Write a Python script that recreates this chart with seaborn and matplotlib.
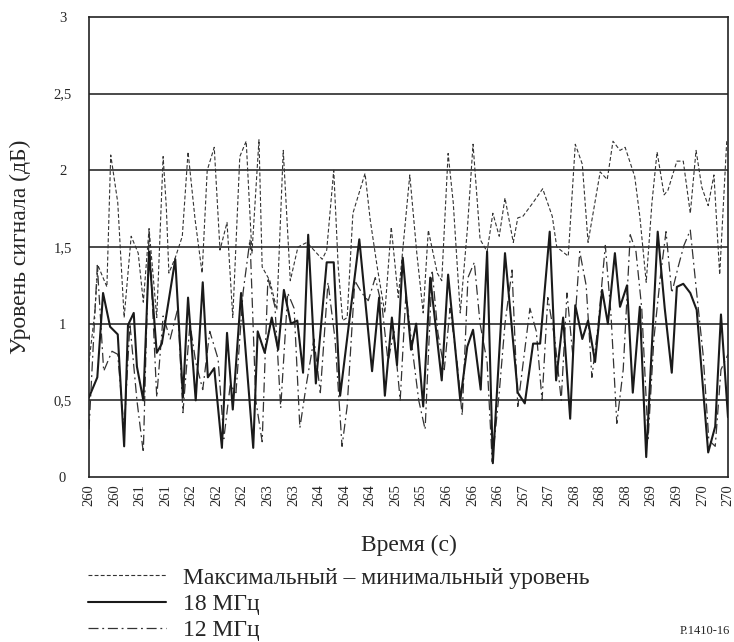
import numpy as np
import pandas as pd
import matplotlib
matplotlib.use("Agg")
import matplotlib.pyplot as plt
import seaborn as sns

# --- data ---
t_range = [260.00, 260.09, 260.14, 260.28, 260.34, 260.45, 260.55, 260.66, 260.77, 260.85,
           260.94, 261.06, 261.16, 261.21, 261.25, 261.35, 261.46, 261.55, 261.66, 261.77,
           261.85, 261.96, 262.05, 262.16, 262.25, 262.36, 262.46, 262.55, 262.66, 262.71,
           262.83, 262.94, 263.04, 263.15, 263.27, 263.41, 263.65, 263.72, 263.83, 263.90,
           263.97, 264.04, 264.13, 264.32, 264.40, 264.51, 264.63, 264.73, 264.84, 265.02,
           265.13, 265.23, 265.31, 265.45, 265.52, 265.62, 265.70, 265.81, 265.92, 266.01,
           266.12, 266.23, 266.32, 266.42, 266.51, 266.64, 266.71, 266.79, 266.95, 267.10,
           267.25, 267.32, 267.50, 267.61, 267.72, 267.81, 268.00, 268.11, 268.20, 268.31,
           268.39, 268.54, 268.62, 268.72, 268.81, 268.89, 269.00, 269.06, 269.20, 269.30,
           269.41, 269.50, 269.59, 269.69, 269.78, 269.87, 269.98]
v_range = [0.75, 1.07, 1.38, 1.24, 2.10, 1.79, 1.04, 1.57, 1.46, 1.14,
           1.62, 1.04, 2.09, 1.76, 1.33, 1.43, 1.57, 2.12, 1.68, 1.33,
           2.00, 2.15, 1.48, 1.66, 1.04, 2.09, 2.19, 1.46, 2.20, 1.37,
           1.28, 1.09, 2.13, 1.28, 1.50, 1.53, 1.42, 1.48, 2.00, 1.37,
           1.02, 1.04, 1.72, 1.98, 1.68, 1.37, 1.07, 1.63, 1.17, 1.97,
           1.46, 1.07, 1.61, 1.33, 1.28, 2.11, 1.79, 1.07, 1.61, 2.17,
           1.55, 1.47, 1.72, 1.57, 1.82, 1.53, 1.69, 1.70, 1.79, 1.88,
           1.70, 1.50, 1.44, 2.17, 2.04, 1.53, 1.99, 1.94, 2.19, 2.13,
           2.15, 1.96, 1.70, 1.27, 1.79, 2.12, 1.84, 1.87, 2.06, 2.06,
           1.72, 2.13, 1.89, 1.77, 1.97, 1.32, 2.19]

t_18 = [260.00, 260.13, 260.22, 260.33, 260.45, 260.55, 260.61, 260.70, 260.75, 260.85,
        260.94, 261.06, 261.14, 261.35, 261.47, 261.55, 261.67, 261.78, 261.86, 261.96,
        262.08, 262.16, 262.25, 262.38, 262.57, 262.64, 262.75, 262.86, 262.96, 263.05,
        263.16, 263.26, 263.35, 263.43, 263.55, 263.72, 263.83, 263.93, 264.23, 264.43,
        264.54, 264.63, 264.74, 264.82, 264.91, 265.04, 265.12, 265.23, 265.34, 265.52,
        265.62, 265.81, 265.92, 266.01, 266.13, 266.23, 266.32, 266.51, 266.71, 266.82,
        266.95, 267.06, 267.21, 267.31, 267.42, 267.53, 267.61, 267.72, 267.81, 267.92,
        268.03, 268.12, 268.23, 268.31, 268.42, 268.51, 268.62, 268.72, 268.90, 269.01,
        269.12, 269.20, 269.30, 269.41, 269.51, 269.69, 269.80, 269.89, 270.00]
v_18 = [0.52, 0.65, 1.20, 0.98, 0.93, 0.20, 0.99, 1.07, 0.72, 0.50,
        1.47, 0.81, 0.87, 1.42, 0.52, 1.17, 0.50, 1.27, 0.65, 0.71,
        0.19, 0.94, 0.44, 1.20, 0.19, 0.95, 0.81, 1.04, 0.83, 1.22,
        1.00, 1.02, 0.68, 1.58, 0.61, 1.40, 1.40, 0.53, 1.55, 0.69,
        1.17, 0.53, 1.04, 0.73, 1.43, 0.83, 1.00, 0.46, 1.30, 0.63,
        1.32, 0.50, 0.85, 0.96, 0.57, 1.47, 0.09, 1.46, 0.55, 0.48,
        0.87, 0.87, 1.60, 0.63, 1.04, 0.38, 1.12, 0.90, 1.02, 0.75,
        1.22, 1.00, 1.46, 1.11, 1.25, 0.55, 1.11, 0.13, 1.60, 1.10,
        0.68, 1.24, 1.26, 1.20, 1.09, 0.16, 0.33, 1.06, 0.39]

t_12 = [260.00, 260.13, 260.23, 260.36, 260.45, 260.55, 260.64, 260.75, 260.85, 260.94,
        261.06, 261.16, 261.27, 261.39, 261.47, 261.58, 261.67, 261.78, 261.89, 262.02,
        262.11, 262.21, 262.30, 262.41, 262.52, 262.61, 262.71, 262.80, 262.91, 263.00,
        263.11, 263.21, 263.30, 263.40, 263.52, 263.62, 263.74, 263.85, 263.96, 264.04,
        264.16, 264.27, 264.37, 264.48, 264.59, 264.68, 264.77, 264.87, 264.96, 265.07,
        265.16, 265.26, 265.37, 265.46, 265.56, 265.65, 265.76, 265.84, 265.93, 266.03,
        266.12, 266.23, 266.31, 266.42, 266.51, 266.62, 266.71, 266.82, 266.90, 267.00,
        267.09, 267.18, 267.29, 267.39, 267.48, 267.57, 267.68, 267.78, 267.87, 267.97,
        268.08, 268.17, 268.26, 268.36, 268.47, 268.56, 268.65, 268.75, 268.84, 268.94,
        269.03, 269.12, 269.22, 269.31, 269.41, 269.51, 269.61, 269.70, 269.80, 269.89,
        270.00]
v_12 = [0.31, 1.38, 0.69, 0.82, 0.80, 0.30, 1.00, 0.50, 0.16, 1.60,
        0.52, 1.05, 0.90, 1.10, 0.42, 1.00, 0.75, 0.57, 0.95, 0.77,
        0.25, 0.60, 0.55, 1.20, 1.55, 0.50, 0.23, 1.30, 1.11, 0.45,
        1.20, 1.10, 0.32, 0.60, 0.90, 0.55, 1.27, 0.90, 0.20, 0.46,
        1.28, 1.20, 1.15, 1.30, 1.10, 0.75, 0.95, 0.50, 1.20, 0.80,
        0.50, 0.31, 1.35, 0.94, 0.70, 1.10, 0.75, 0.40, 1.30, 1.40,
        1.00, 0.75, 0.10, 0.55, 1.00, 1.35, 0.46, 0.83, 1.10, 0.95,
        0.50, 1.17, 0.90, 0.50, 1.20, 0.80, 1.47, 1.25, 0.65, 1.00,
        1.51, 1.05, 0.35, 0.70, 1.58, 1.47, 1.10, 0.25, 0.90, 1.30,
        1.60, 1.20, 1.37, 1.51, 1.61, 1.20, 0.80, 0.24, 0.20, 0.70,
        0.80]

x_ticks = [260 + 0.4 * i for i in range(26)]
x_tick_labels = ["260", "260", "261", "261", "262", "262", "262", "263", "263", "264",
                 "264", "264", "265", "265", "266", "266", "266", "267", "267", "268",
                 "268", "268", "269", "269", "270", "270"]
y_ticks = [0, 0.5, 1, 1.5, 2, 2.5, 3]
y_tick_labels = ["0", "0,5", "1", "1,5", "2", "2,5", "3"]

label_range = "Максимальный – минимальный уровень"
label_18 = "18 МГц"
label_12 = "12 МГц"

sns.set_style("white")
plt.rcParams["font.family"] = ["Liberation Serif", "DejaVu Serif"]

fig = plt.figure(figsize=(7.34, 6.42), dpi=100)
ax = fig.add_axes([89 / 734, 1 - 477 / 642, 639 / 734, 460 / 642])

# grid lines first so the data sits on top
for y in y_ticks[1:-1]:
    ax.axhline(y, color="#2b2b2b", lw=1.2, zorder=1)

sns.lineplot(x=t_range, y=v_range, ax=ax, color="#333333", lw=0.8,
             linestyle=(0, (3.5, 2)), estimator=None, sort=False,
             label=label_range, zorder=3)
sns.lineplot(x=t_18, y=v_18, ax=ax, color="#1a1a1a", lw=1.5,
             estimator=None, sort=False, label=label_18, zorder=4)
sns.lineplot(x=t_12, y=v_12, ax=ax, color="#333333", lw=0.9,
             linestyle=(0, (8, 3, 1.5, 3)), estimator=None, sort=False,
             label=label_12, zorder=2)

ax.set_xlim(260, 270)
ax.set_ylim(0, 3)
ax.set_xticks(x_ticks)
ax.set_xticklabels(x_tick_labels, rotation=90, fontsize=10.5)
ax.set_yticks(y_ticks)
ax.set_yticklabels(y_tick_labels, fontsize=10.5, ha="center")
ax.tick_params(axis="x", direction="in", length=5, width=1, color="#222222", pad=5)
ax.tick_params(axis="y", length=0, pad=19)
for s in ax.spines.values():
    s.set_color("#222222")
    s.set_linewidth(1.2)

ax.set_xlabel("Время (с)", fontsize=17, labelpad=10)
ax.set_ylabel("Уровень сигнала (дБ)", fontsize=17)
ax.yaxis.set_label_coords(-0.09, 0.5)
ax.xaxis.set_label_coords(0.5, -0.125)

handles, labels = ax.get_legend_handles_labels()
ax.get_legend().remove()
fig.legend(handles, labels, loc="upper left", bbox_to_anchor=(88 / 734, 1 - 567 / 642),
           frameon=False, fontsize=17, handlelength=3.3, handletextpad=0.72,
           labelspacing=0.2, borderpad=0, borderaxespad=0)

fig.text(0.995, 0.008, "P.1410-16", ha="right", va="bottom", fontsize=9)

fig.savefig("out.png", dpi=100)
